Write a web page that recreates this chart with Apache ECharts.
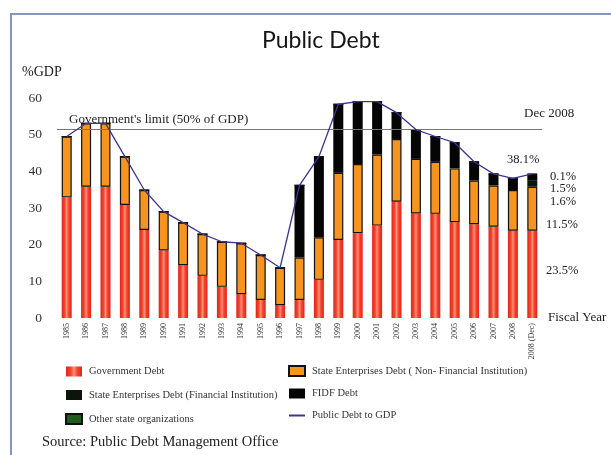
<!DOCTYPE html>
<html lang="en">
  <head>
    <meta charset="UTF-8" />
    <title>Public Debt</title>
    <script src="https://cdn.jsdelivr.net/npm/echarts@6/dist/echarts.min.js"></script>
    <style>
      html, body { margin: 0; padding: 0; background: #fff; }
      .echarts { width: 611px; height: 455px; }
    </style>
  </head>
  <body>
    <div class="echarts"></div>
    <script>
      // fiscal years
      const years = ['1985', '1986', '1987', '1988', '1989', '1990', '1991', '1992', '1993', '1994',
        '1995', '1996', '1997', '1998', '1999', '2000', '2001', '2002', '2003', '2004',
        '2005', '2006', '2007', '2008', '2008 (Dec)']
      // % of GDP
      const govDebt = [32.9, 35.8, 35.8, 30.8, 24.0, 18.4, 14.4, 11.5, 8.5, 6.5,
        4.9, 3.5, 4.9, 10.4, 21.3, 23.1, 25.2, 31.7, 28.5, 28.4,
        26.1, 25.6, 24.9, 23.8, 23.8]
      const soeNonFin = [16.6, 17.3, 17.3, 13.2, 10.9, 10.6, 11.6, 11.4, 12.3, 13.9,
        12.3, 10.2, 11.6, 11.6, 18.3, 18.9, 19.4, 17.1, 14.9, 14.2,
        14.7, 11.9, 11.2, 11.1, 12.0]
      const soeFin = [0, 0, 0, 0, 0, 0, 0, 0, 0, 0,
        0, 0, 0, 0, 0, 0, 0, 0, 0, 0,
        0, 0, 0, 0, 1.8]
      const fidfDebt = [0, 0, 0, 0, 0, 0, 0, 0, 0, 0,
        0, 0, 19.7, 22.0, 18.7, 17.0, 14.4, 7.2, 8.0, 6.9,
        7.0, 5.1, 3.2, 3.2, 1.6]
      const otherOrgs = [0, 0, 0, 0, 0, 0, 0, 0, 0, 0,
        0, 0, 0, 0, 0, 0, 0, 0, 0, 0,
        0, 0, 0, 0, 0.1]
      const debtToGdp = [49.5, 53.1, 53.1, 44.0, 34.9, 29.0, 26.0, 22.9, 20.8, 20.4,
        17.2, 13.7, 36.2, 44.0, 58.3, 59.0, 59.0, 56.0, 51.4, 49.5,
        47.8, 42.6, 39.3, 38.1, 39.3]
      const limitLevel = 51.5
      const yTicks = [0, 10, 20, 30, 40, 50, 60]

      const serif = '"Liberation Serif", "DejaVu Serif", serif'

      const redFill = new echarts.graphic.LinearGradient(0, 0, 1, 0, [
        { offset: 0, color: '#e3221a' },
        { offset: 0.3, color: '#f4452e' },
        { offset: 0.5, color: '#ff9277' },
        { offset: 0.7, color: '#f4452e' },
        { offset: 1, color: '#e3221a' }
      ])

      const names = {
        gov: 'Government Debt',
        soeNF: 'State Enterprises Debt ( Non- Financial Institution)',
        soeF: 'State Enterprises Debt (Financial Institution)',
        fidf: 'FIDF Debt',
        other: 'Other state organizations',
        line: 'Public Debt to GDP'
      }

      const myCharts = echarts.init(document.querySelector('.echarts'))

      const legendText = { fontFamily: serif, fontSize: 10.5, color: '#333', padding: [0, 0, 0, 2] }

      const option = {
        animation: false,
        title: {
          text: 'Public Debt',
          left: 257,
          top: 24,
          textStyle: { fontFamily: 'Lato, "Noto Sans", sans-serif', fontWeight: 'normal', fontSize: 23, color: '#151515' }
        },
        grid: { left: 57, top: 98, width: 485, height: 220 },
        legend: [
          {
            orient: 'vertical', left: 60, top: 361, itemWidth: 16, itemHeight: 10, itemGap: 12.5,
            icon: 'rect', textStyle: legendText,
            data: [names.gov, names.soeF, names.other]
          },
          {
            orient: 'vertical', left: 283, top: 360, itemWidth: 16, itemHeight: 10, itemGap: 11,
            textStyle: legendText,
            data: [
              { name: names.soeNF, icon: 'rect' },
              { name: names.fidf, icon: 'rect' },
              { name: names.line, itemStyle: { opacity: 0 } }
            ]
          }
        ],
        xAxis: {
          type: 'category',
          data: years,
          axisLine: { show: false },
          axisTick: { show: false },
          axisLabel: { rotate: 90, fontFamily: serif, fontSize: 8, color: '#333', margin: 5, interval: 0 }
        },
        yAxis: {
          type: 'value',
          min: yTicks[0],
          max: yTicks[yTicks.length - 1],
          interval: 10,
          splitLine: { show: false },
          axisLine: { show: false },
          axisTick: { show: false },
          axisLabel: { fontFamily: serif, fontSize: 13.5, color: '#333', margin: 15 }
        },
        series: [
          {
            type: 'bar', name: names.gov, stack: 'debt', data: govDebt, barWidth: 10,
            itemStyle: { color: redFill },
            markLine: {
              symbol: 'none', silent: true,
              lineStyle: { color: '#777', width: 1, type: 'solid' },
              label: {
                position: 'insideStartTop', formatter: "Government's limit (50% of GDP)",
                fontFamily: serif, fontSize: 13, color: '#222', distance: [12, 3]
              },
              data: [{ yAxis: limitLevel }]
            }
          },
          {
            type: 'bar', name: names.soeNF, stack: 'debt', data: soeNonFin,
            itemStyle: { color: '#f7941d', borderColor: '#111', borderWidth: 1.2 }
          },
          {
            type: 'bar', name: names.soeF, stack: 'debt', data: soeFin,
            itemStyle: { color: '#0c140c' }
          },
          {
            type: 'bar', name: names.fidf, stack: 'debt', data: fidfDebt,
            itemStyle: { color: '#050505' }
          },
          {
            type: 'bar', name: names.other, stack: 'debt', data: otherOrgs,
            itemStyle: { color: '#1d5e1d', borderColor: '#111', borderWidth: 1 }
          },
          {
            type: 'line', name: names.line, data: debtToGdp, symbol: 'none', z: 5,
            lineStyle: { color: '#3d3590', width: 1.3 },
            itemStyle: { color: '#3d3590' }
          }
        ],
        graphic: [
          {
            type: 'polyline', silent: true,
            shape: { points: [[11, 455], [11, 14], [611, 14]] },
            style: { stroke: '#8397bd', lineWidth: 2, fill: null }
          },
          { type: 'text', left: 22, top: 65, style: { text: '%GDP', font: '14px ' + serif, fill: '#222' } },
          { type: 'text', left: 548, top: 311, style: { text: 'Fiscal Year', font: '13px ' + serif, fill: '#222' } },
          { type: 'text', left: 524, top: 107, style: { text: 'Dec 2008', font: '13px ' + serif, fill: '#222' } },
          { type: 'text', left: 507, top: 153, style: { text: '38.1%', font: '12.5px ' + serif, fill: '#222' } },
          { type: 'text', left: 550, top: 170, style: { text: '0.1%', font: '12.5px ' + serif, fill: '#222' } },
          { type: 'text', left: 550, top: 182, style: { text: '1.5%', font: '12.5px ' + serif, fill: '#222' } },
          { type: 'text', left: 550, top: 195, style: { text: '1.6%', font: '12.5px ' + serif, fill: '#222' } },
          { type: 'text', left: 546, top: 218, style: { text: '11.5%', font: '12.5px ' + serif, fill: '#222' } },
          { type: 'text', left: 546, top: 264, style: { text: '23.5%', font: '12.5px ' + serif, fill: '#222' } },
          { type: 'text', left: 42, top: 435, style: { text: 'Source: Public Debt Management Office', font: '14.5px ' + serif, fill: '#222' } }
        ]
      }
      myCharts.setOption(option)
    </script>
  </body>
</html>
